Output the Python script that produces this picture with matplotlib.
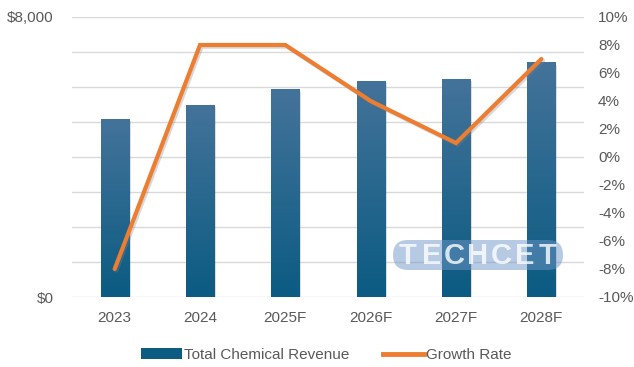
import numpy as np
import matplotlib
matplotlib.use("Agg")
import matplotlib.pyplot as plt
from matplotlib.colors import LinearSegmentedColormap
from matplotlib.patches import Patch, FancyBboxPatch
from matplotlib.lines import Line2D
import matplotlib.patheffects as pe

# ---- data ----
years = ["2023", "2024", "2025F", "2026F", "2027F", "2028F"]
revenue = [5080, 5480, 5930, 6180, 6240, 6700]          # $M
growth = [-8, 8, 8, 4, 1, 7]                             # %
left_ticks = [0, 1000, 2000, 3000, 4000, 5000, 6000, 7000, 8000]
left_labels = ["$0", "", "", "", "", "", "", "", "$8,000"]
right_ticks = [-10, -8, -6, -4, -2, 0, 2, 4, 6, 8, 10]

plt.rcParams["font.family"] = ["Liberation Sans", "DejaVu Sans"]
TXT = "#595959"
BAR_TOP = "#44739a"
BAR_BOT = "#0b5b82"
ORANGE = "#ED7D31"

fig = plt.figure(figsize=(6.34, 3.67), dpi=100)
ax = fig.add_axes([72 / 634, 1 - 297 / 367, 512 / 634, 280 / 367])
ax2 = ax.twinx()

x = np.arange(len(years))
bars = ax.bar(x, revenue, width=0.33, color=BAR_BOT, zorder=2,
              path_effects=[pe.withSimplePatchShadow(offset=(1.5, -1.5),
                                                      shadow_rgbFace="#7f7f7f",
                                                      alpha=0.25)])

# vertical gradient fill for each bar
cmap = LinearSegmentedColormap.from_list("bar", [BAR_BOT, BAR_TOP])
grad = np.linspace(0, 1, 256).reshape(-1, 1)
for b in bars:
    x0, y0 = b.get_x(), b.get_y()
    w, h = b.get_width(), b.get_height()
    im = ax.imshow(grad, cmap=cmap, origin="lower", aspect="auto",
                   extent=[x0, x0 + w, y0, y0 + h], zorder=2.1)
    im.set_clip_path(b)

ax.set_xlim(-0.5, len(years) - 0.5)
ax.set_ylim(0, 8000)
ax.set_yticks(left_ticks)
ax.set_yticklabels(left_labels)
ax.set_xticks(x)
ax.set_xticklabels(years)
ax.grid(axis="y", color="#d9d9d9", lw=1, zorder=0)
ax.set_axisbelow(True)
ax.tick_params(axis="y", length=0, pad=13, labelsize=11, labelcolor=TXT)
ax.tick_params(axis="x", length=0, pad=10, labelsize=11, labelcolor=TXT)
for s in ax.spines.values():
    s.set_visible(False)

ax2.plot(x, growth, color=ORANGE, lw=3, solid_joinstyle="miter",
         solid_capstyle="round",
         path_effects=[pe.SimpleLineShadow(offset=(1.2, -1.2),
                                           shadow_color="#7f7f7f", alpha=0.3),
                       pe.Normal()])
ax2.set_ylim(-10, 10)
ax2.set_yticks(right_ticks)
ax2.set_yticklabels([f"{t}%" for t in right_ticks])
ax2.tick_params(axis="y", length=0, pad=10, labelsize=11, labelcolor=TXT)
for s in ax2.spines.values():
    s.set_visible(False)

# watermark: translucent capsule with spaced white letters (inch coords)
badge = FancyBboxPatch((3.93, 0.97), 1.70, 0.30,
                       boxstyle="round,pad=0,rounding_size=0.15",
                       transform=fig.dpi_scale_trans, fc="#6f98c8",
                       ec="none", alpha=0.5, zorder=10)
fig.add_artist(badge)
for i, ch in enumerate("TECHCET"):
    fig.text(4.08 + i * 0.233, 1.11, ch, transform=fig.dpi_scale_trans,
             ha="center", va="center", fontsize=21, fontweight="bold",
             color="white", alpha=0.8, zorder=11)

handles = [Patch(facecolor=BAR_BOT, edgecolor="none"),
           Line2D([0], [0], color=ORANGE, lw=3.5)]
fig.legend(handles, ["Total Chemical Revenue", "Growth Rate"],
           loc="center", bbox_to_anchor=(326 / 634, 1 - 355 / 367),
           ncol=2, frameon=False, fontsize=11, labelcolor=TXT,
           handlelength=2.7, handleheight=0.7, handletextpad=0.1,
           columnspacing=2.2)

fig.savefig("out.png", dpi=100)
